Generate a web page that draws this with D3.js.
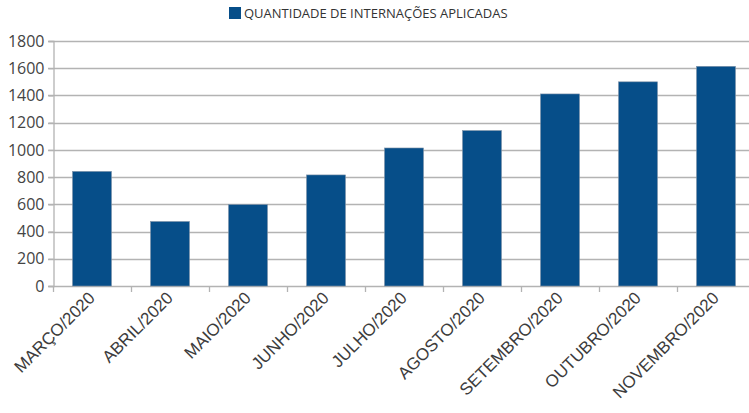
<!DOCTYPE html>
<html>
<head>
<meta charset="utf-8">
<script src="https://cdn.jsdelivr.net/npm/d3@7"></script>
<style>
  body { margin: 0; background: #fff; }
</style>
</head>
<body>
<script>
// data
var months = ["MARÇO/2020", "ABRIL/2020", "MAIO/2020", "JUNHO/2020", "JULHO/2020",
              "AGOSTO/2020", "SETEMBRO/2020", "OUTUBRO/2020", "NOVEMBRO/2020"];
var internacoes = [842, 474, 598, 816, 1014, 1142, 1411, 1500, 1614];
var yTicks = [0, 200, 400, 600, 800, 1000, 1200, 1400, 1600, 1800];
var seriesName = "QUANTIDADE DE INTERNAÇÕES APLICADAS";

var width = 749,
    height = 413,
    plotLeft = 53,
    plotRight = 755,   // plot runs past the window edge, as in the reference
    plotTop = 41,
    plotBottom = 286,
    barColor = "#064e89",
    gridColor = "#b3b3b3";

var svg = d3.select("body")
    .append("svg")
    .attr("width", width)
    .attr("height", height);

var xScale = d3.scaleBand()
    .domain(months)
    .range([plotLeft, plotRight])
    .paddingInner(0.5)
    .paddingOuter(0.25);

var yScale = d3.scaleLinear()
    .domain([0, 1800])
    .range([plotBottom, plotTop]);

// gridlines
svg.append("g")
    .selectAll("line")
    .data(yTicks)
    .enter()
    .append("line")
    .attr("x1", plotLeft - 5)
    .attr("x2", plotRight)
    .attr("y1", function(d) { return Math.round(yScale(d)) + 0.5; })
    .attr("y2", function(d) { return Math.round(yScale(d)) + 0.5; })
    .attr("stroke", gridColor)
    .attr("stroke-width", 1.3);

// y axis
var yAxis = svg.append("g")
    .attr("transform", "translate(" + (plotLeft + 0.5) + ",0)")
    .call(d3.axisLeft(yScale).tickValues(yTicks).tickFormat(d3.format("d"))
        .tickSize(5).tickPadding(4));
yAxis.select(".domain").attr("stroke", gridColor).attr("stroke-width", 1.3);
yAxis.selectAll(".tick line").attr("stroke", gridColor).attr("stroke-width", 1.3);
yAxis.selectAll("text")
    .attr("font-family", "Open Sans")
    .attr("font-size", 16)
    .attr("fill", "#444");

// x axis ticks at band boundaries
var step = xScale.step();
svg.append("g")
    .selectAll("line")
    .data(months)
    .enter()
    .append("line")
    .attr("x1", function(d) { return Math.round(xScale(d) - step * 0.25) + 0.5; })
    .attr("x2", function(d) { return Math.round(xScale(d) - step * 0.25) + 0.5; })
    .attr("y1", plotBottom)
    .attr("y2", plotBottom + 6)
    .attr("stroke", gridColor)
    .attr("stroke-width", 1.3);

// bars
svg.append("g")
    .selectAll("rect")
    .data(internacoes)
    .enter()
    .append("rect")
    .attr("x", function(d, i) { return xScale(months[i]); })
    .attr("y", function(d) { return yScale(d); })
    .attr("width", xScale.bandwidth())
    .attr("height", function(d) { return plotBottom - yScale(d); })
    .attr("fill", barColor)
    .attr("stroke", "#7f93a8")
    .attr("stroke-width", 0.6);

// x labels, rotated
svg.append("g")
    .selectAll("text")
    .data(months)
    .enter()
    .append("text")
    .attr("transform", function(d) {
        var x = xScale(d) + xScale.bandwidth() / 2 + 4;
        return "translate(" + x + "," + (plotBottom + 13) + ") rotate(-45)";
    })
    .attr("text-anchor", "end")
    .attr("font-family", "Liberation Sans")
    .attr("font-size", 17)
    .attr("fill", "#3c3c3c")
    .text(function(d) { return d; });

// legend
var legend = svg.append("g");
legend.append("rect")
    .attr("x", 229)
    .attr("y", 7)
    .attr("width", 12)
    .attr("height", 12)
    .attr("fill", barColor);
legend.append("text")
    .attr("x", 244)
    .attr("y", 18)
    .attr("font-family", "Open Sans")
    .attr("font-size", 13)
    .attr("fill", "#333")
    .text(seriesName);
</script>
</body>
</html>
